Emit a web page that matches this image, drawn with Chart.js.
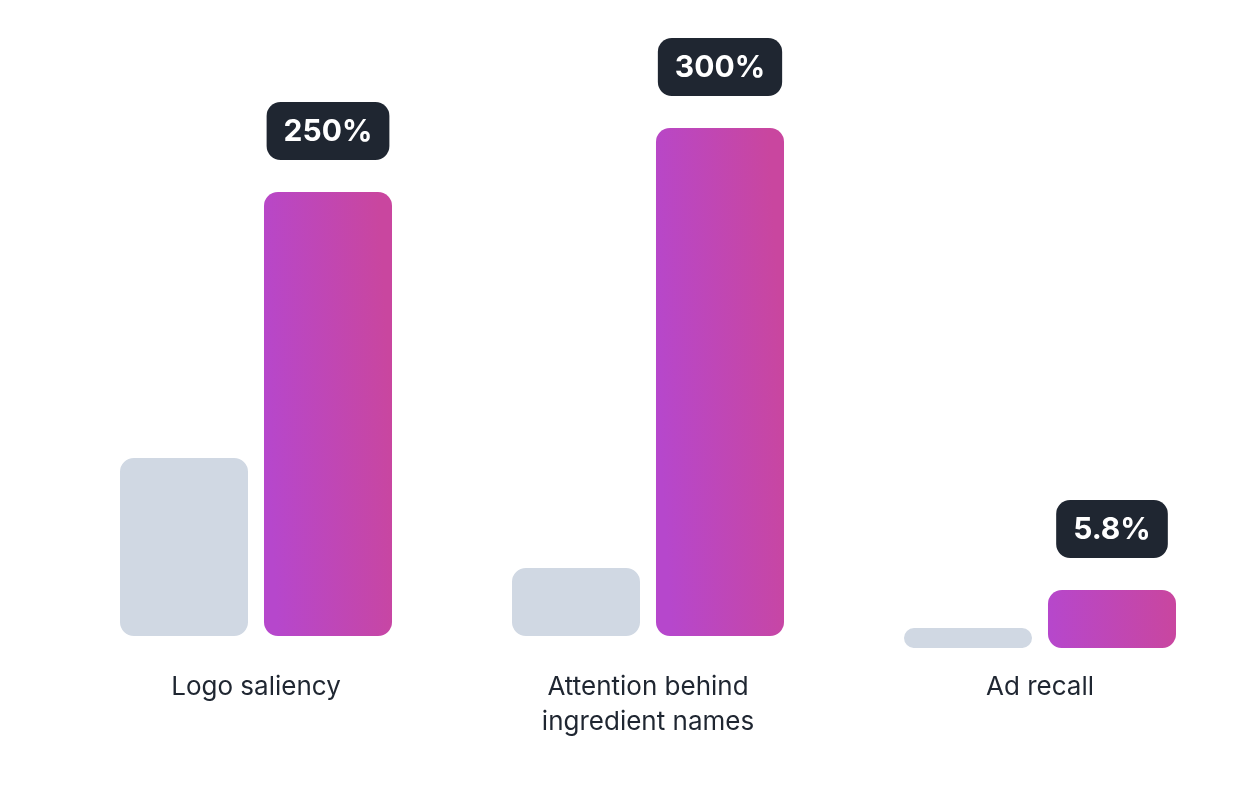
<!DOCTYPE html>
<html>
<head>
<meta charset="utf-8">
<script src="https://cdn.jsdelivr.net/npm/chart.js@4.4.1/dist/chart.umd.min.js"></script>
<style>
  html, body { margin:0; padding:0; background:#fff; }
  #wrap { width:1248px; height:808px; position:relative; }
</style>
</head>
<body>
<div id="wrap"><canvas id="uplift"></canvas></div>
<script>
// data
var categories = [['Logo saliency'], ['Attention behind', 'ingredient names'], ['Ad recall']]
var baseline = [12, 12, 0]       // ad recall group sits a bit lower
var control = [178, 68, 20]
var exposed = [444, 508, 58]
var upliftText = ['250%', '300%', '5.8%']

var GREY = '#d0d8e3'
var DARK = '#1f2631'

function floating(vals){
    return vals.map(function(v, i){ return [baseline[i], baseline[i] + v] })
}

// gradient fill on the purple bars, built from each bar's own box
// (backgroundColor is scriptable below so each bar keeps its own options object)
var gradientPlugin = {
    id:'barGradient',
    beforeDatasetsDraw(chart){
        var c = chart.ctx
        chart.getDatasetMeta(1).data.forEach(function(bar){
            var left = bar.x - bar.width/2
            var mid = (bar.y + bar.base)/2
            var g = c.createLinearGradient(left, mid + 4, left + bar.width, mid - 4)
            g.addColorStop(0, '#b647cc')
            g.addColorStop(1, '#c9469f')
            bar.options.backgroundColor = g
        })
    }
}

// dark pill with the uplift value above each purple bar
var pillPlugin = {
    id:'uplift',
    afterDatasetsDraw(chart){
        var c = chart.ctx
        c.save()
        c.font = 'bold 30px Inter'
        c.textAlign = 'center'
        c.textBaseline = 'middle'
        chart.getDatasetMeta(1).data.forEach(function(bar, i){
            var txt = upliftText[i]
            var w = c.measureText(txt).width + 34
            var h = 58
            var bottom = bar.y - 32
            c.fillStyle = DARK
            c.beginPath()
            c.roundRect(bar.x - w/2, bottom - h, w, h, 14)
            c.fill()
            c.fillStyle = '#ffffff'
            c.fillText(txt, bar.x, bottom - h/2 + 1)
        })
        c.restore()
    }
}

var chart = new Chart(document.getElementById('uplift').getContext('2d'), {
    type:'bar',
    plugins:[gradientPlugin, pillPlugin],
    data:{
        labels:categories,
        datasets:[{
            label:'Before',
            data:floating(control),
            backgroundColor:GREY,
            borderRadius:14,
            borderSkipped:false
        },
        {
            label:'After',
            data:floating(exposed),
            backgroundColor:function(ctx){ return '#c048b6' },
            borderRadius:14,
            borderSkipped:false
        }]
    },
    options:{
        responsive:true,
        maintainAspectRatio:false,
        animation:false,
        categoryPercentage:0.7347,
        barPercentage:0.889,
        layout:{
            padding:{ left:60, right:12, top:0, bottom:46 }
        },
        plugins:{
            legend:{ display:false },
            tooltip:{ enabled:false }
        },
        scales:{
            x:{
                grid:{ display:false, drawTicks:false },
                border:{ display:false },
                ticks:{
                    color:DARK,
                    padding:22,
                    font:{ family:'Inter', size:26, lineHeight:1.346 }
                }
            },
            y:{
                display:false,
                min:0,
                max:648
            }
        }
    }
})
</script>
</body>
</html>
